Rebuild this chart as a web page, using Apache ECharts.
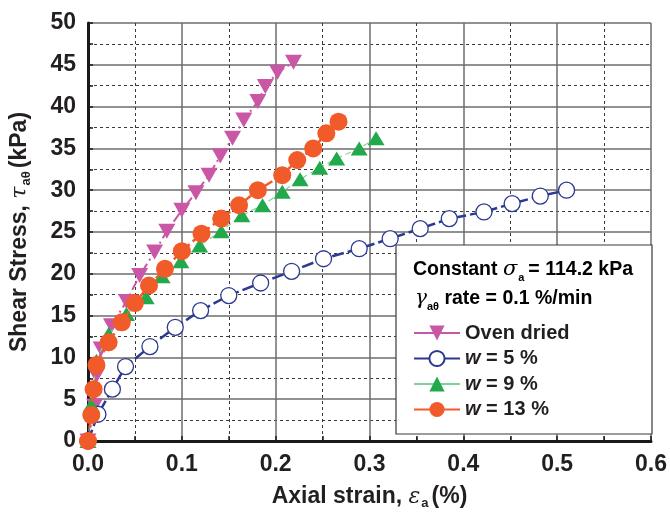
<!DOCTYPE html>
<html lang="en">
<head>
    <meta charset="UTF-8">
    <title>Shear stress vs axial strain</title>
    <script src="https://cdn.jsdelivr.net/npm/echarts@6/dist/echarts.min.js"></script>
    <style>
        html, body { margin: 0; padding: 0; background: #ffffff; }
        #main { width: 670px; height: 515px; }
    </style>
</head>
<body>
    <div id="main"></div>
    <script>
        // axial strain (%) and shear stress (kPa)
        var ovenX = [0, 0.007, 0.009, 0.014, 0.025, 0.041, 0.055, 0.071, 0.084, 0.100, 0.115, 0.129, 0.141, 0.154, 0.166, 0.181, 0.189, 0.202, 0.219];
        var ovenY = [0, 4.2, 7.8, 11.0, 13.8, 16.7, 19.8, 22.6, 25.1, 27.6, 29.7, 31.8, 34.1, 36.2, 38.4, 40.6, 42.4, 44.1, 45.3];

        var w5X = [0, 0.0106, 0.026, 0.040, 0.066, 0.093, 0.120, 0.150, 0.184, 0.217, 0.251, 0.289, 0.322, 0.354, 0.385, 0.422, 0.452, 0.482, 0.510];
        var w5Y = [0, 3.2, 6.2, 8.9, 11.3, 13.6, 15.6, 17.4, 18.9, 20.3, 21.8, 23.0, 24.2, 25.4, 26.6, 27.4, 28.4, 29.3, 30.0];

        var w9X = [0, 0.0035, 0.009, 0.022, 0.041, 0.062, 0.079, 0.099, 0.119, 0.142, 0.164, 0.186, 0.207, 0.226, 0.247, 0.265, 0.289, 0.307];
        var w9Y = [0, 4.3, 9.6, 12.8, 15.2, 17.2, 19.7, 21.5, 23.4, 25.1, 27.0, 28.2, 29.8, 31.3, 32.7, 33.8, 35.0, 36.2];

        var w13X = [0, 0.0035, 0.006, 0.009, 0.022, 0.036, 0.050, 0.065, 0.082, 0.100, 0.121, 0.142, 0.161, 0.181, 0.207, 0.223, 0.240, 0.254, 0.267];
        var w13Y = [0, 3.1, 6.2, 9.1, 11.8, 14.2, 16.5, 18.6, 20.6, 22.7, 24.8, 26.6, 28.2, 30.0, 31.8, 33.6, 35.0, 36.8, 38.2];

        var seriesNames = ['Oven dried', 'w = 5 %', 'w = 9 %', 'w = 13 %'];

        function pairs(xs, ys) {
            return xs.map(function (x, i) { return [x, ys[i]]; });
        }

        var FONT = 'Liberation Sans, Arial, sans-serif';
        var chart = echarts.init(document.getElementById('main'));

        // rich styles for axis titles (greek letter + subscript)
        var nameRich = {
            b: { fontFamily: FONT, fontWeight: 'bold', fontSize: 23, color: '#231f20' },
            g: { fontFamily: 'DejaVu Serif, serif', fontStyle: 'italic', fontSize: 22, color: '#231f20' },
            s: { fontFamily: FONT, fontWeight: 'bold', fontSize: 13, color: '#231f20', padding: [13, 3, 0, 1] }
        };

        var option = {
            animation: false,
            backgroundColor: '#ffffff',
            grid: { left: 88, right: 17, top: 23, bottom: 73 },
            xAxis: {
                type: 'value',
                min: 0, max: 0.6, interval: 0.1,
                name: '{b|Axial strain, }{g|ε}{s|a}{b|(%)}',
                nameLocation: 'middle',
                nameGap: 43,
                nameTextStyle: { rich: nameRich },
                axisLine: { onZero: false, lineStyle: { color: '#1a1a1a', width: 3 } },
                axisTick: { inside: true, length: 5, lineStyle: { color: '#1a1a1a', width: 1.5 } },
                minorTick: { show: true, splitNumber: 2, length: 5, lineStyle: { color: '#1a1a1a', width: 1.5 } },
                axisLabel: {
                    margin: 12,
                    fontFamily: FONT, fontWeight: 'bold', fontSize: 23, color: '#231f20',
                    formatter: function (v) { return v.toFixed(1); }
                },
                splitLine: { show: true, lineStyle: { color: '#6d6d6d', width: 1.5 } },
                minorSplitLine: { show: true, lineStyle: { color: '#3a3a3a', width: 1, type: [3, 3] } }
            },
            yAxis: {
                type: 'value',
                min: 0, max: 50, interval: 5,
                name: '{b|Shear Stress, }{g|τ}{s|aθ}{b|(kPa)}',
                nameLocation: 'middle',
                nameGap: 55,
                nameTextStyle: { rich: nameRich },
                axisLine: { show: true, onZero: false, lineStyle: { color: '#1a1a1a', width: 3 } },
                axisTick: { show: true, inside: true, length: 5, lineStyle: { color: '#1a1a1a', width: 1.5 } },
                minorTick: { show: true, splitNumber: 2, length: 5, lineStyle: { color: '#1a1a1a', width: 1.5 } },
                axisLabel: {
                    margin: 12,
                    fontFamily: FONT, fontWeight: 'bold', fontSize: 23, color: '#231f20'
                },
                splitLine: { show: true, lineStyle: { color: '#6d6d6d', width: 1.5 } },
                minorSplitLine: { show: true, lineStyle: { color: '#3a3a3a', width: 1, type: [3, 3] } }
            },
            legend: {
                orient: 'vertical',
                left: 413, top: 323,
                itemWidth: 46, itemHeight: 19,
                itemGap: 5.5,
                padding: 0,
                data: seriesNames,
                lineStyle: { type: 'solid' },
                textStyle: {
                    fontFamily: FONT, fontWeight: 'bold', fontSize: 20, color: '#231f20',
                    lineHeight: 19,
                    rich: {
                        i: { fontFamily: FONT, fontWeight: 'bold', fontStyle: 'italic', fontSize: 20, color: '#231f20' },
                        n: { fontFamily: FONT, fontWeight: 'bold', fontSize: 20, color: '#231f20' }
                    }
                },
                formatter: function (name) {
                    if (name.charAt(0) === 'w') {
                        return '{i|w}{n|' + name.slice(1) + '}';
                    }
                    return '{n|' + name + '}';
                }
            },
            graphic: [
                {
                    type: 'rect', z: 1,
                    shape: { x: 396, y: 245, width: 256, height: 189 },
                    style: { fill: '#ffffff', stroke: '#3a3a3a', lineWidth: 1.2 }
                },
                {
                    type: 'text', z: 5, left: 413, top: 259,
                    style: {
                        text: '{b|Constant }{g|σ}{s|a}{b|= 114.2 kPa}',
                        rich: {
                            b: { fontFamily: FONT, fontWeight: 'bold', fontSize: 19.5, color: '#231f20' },
                            g: { fontFamily: 'DejaVu Serif, serif', fontStyle: 'italic', fontSize: 21, color: '#231f20', padding: [0, 1, 0, 0] },
                            s: { fontFamily: FONT, fontWeight: 'bold', fontSize: 11, color: '#231f20', padding: [16, 4, 0, 0] }
                        }
                    }
                },
                {
                    type: 'text', z: 5, left: 415, top: 289,
                    style: {
                        text: '{g|γ}{s|aθ}{b| rate = 0.1 %/min}',
                        rich: {
                            b: { fontFamily: FONT, fontWeight: 'bold', fontSize: 19.5, color: '#231f20' },
                            g: { fontFamily: 'DejaVu Serif, serif', fontStyle: 'italic', fontSize: 20, color: '#231f20' },
                            s: { fontFamily: FONT, fontWeight: 'bold', fontSize: 11, color: '#231f20', padding: [16, 0, 0, 0] }
                        }
                    }
                }
            ],
            series: [
                {
                    name: seriesNames[0],
                    type: 'line',
                    data: pairs(ovenX, ovenY),
                    symbol: 'triangle',
                    symbolRotate: 180,
                    symbolSize: [17, 15],
                    itemStyle: { color: '#c957a5' },
                    lineStyle: { color: '#c957a5', width: 2, type: [10, 4, 2, 4] },
                    z: 2
                },
                {
                    name: seriesNames[1],
                    type: 'line',
                    data: pairs(w5X, w5Y),
                    symbol: 'circle',
                    symbolSize: 16,
                    showAllSymbol: true,
                    itemStyle: { color: '#ffffff', borderColor: '#2b3990', borderWidth: 1.3 },
                    lineStyle: { color: '#2b3990', width: 2.5, type: [12, 4] },
                    z: 3
                },
                {
                    name: seriesNames[2],
                    type: 'line',
                    data: pairs(w9X, w9Y),
                    symbol: 'triangle',
                    symbolSize: [17, 14],
                    itemStyle: { color: '#21a94b' },
                    lineStyle: { color: '#7fd39a', width: 1.2, type: [6, 4] },
                    z: 4
                },
                {
                    name: seriesNames[3],
                    type: 'line',
                    data: pairs(w13X, w13Y),
                    symbol: 'circle',
                    symbolSize: 18,
                    itemStyle: { color: '#f15a29' },
                    lineStyle: { color: '#f15a29', width: 2.5, type: [9, 4] },
                    z: 5
                }
            ]
        };

        chart.setOption(option);
    </script>
</body>
</html>
